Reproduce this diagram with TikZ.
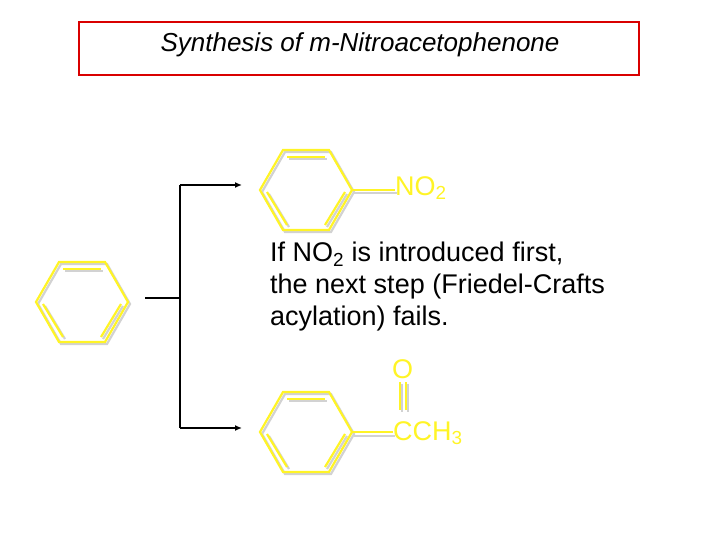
\documentclass[tikz,border=0pt]{standalone}
\usepackage{fontspec}
\usetikzlibrary{arrows.meta}
\setmainfont{Liberation Sans}
\begin{document}
\begin{tikzpicture}[x=1pt,y=-1pt,
  yl/.style={draw=yellow!85!white,line width=2.2pt},
  sh/.style={draw=gray!35,line width=2.2pt},
  ytxt/.style={text=yellow!85!white,font=\fontsize{27}{30}\selectfont,inner sep=0pt,anchor=west},
  arr/.style={draw=black,line width=1.3pt,-{Latex[length=7pt,width=6pt]}}]
\useasboundingbox (0,0) rectangle (720,540);
\newcommand{\ringdraw}[3]{%
  \begin{scope}[shift={(#1,#2)}]
  \draw[#3] (-23,-40)--(23,-40)--(46,0)--(23,40)--(-23,40)--(-46,0)--cycle;
  \draw[#3] (-19,-33)--(19,-33);
  \draw[#3] (-39,2)--(-19,35);
  \draw[#3] (39,2)--(19,35);
  \end{scope}}
% shadows
\ringdraw{308}{192}{sh}
\ringdraw{84}{304}{sh}
\ringdraw{308}{434}{sh}
\draw[sh] (354,193)--(397,193);
\draw[sh] (354,436)--(395,436);
\draw[sh] (402,384)--(402,412);
\draw[sh] (408,384)--(408,412);
% rings
\ringdraw{306}{190}{yl}
\ringdraw{82}{302}{yl}
\ringdraw{306}{432}{yl}
\coordinate (r1) at (352,190);
\coordinate (r3) at (352,432);
\node[ytxt] (no2) at (395,188) {NO\textsubscript{2}};
\node[ytxt] (o) at (392,369) {O};
\node[ytxt] (cch3) at (393,433) {CCH\textsubscript{3}};
\draw[yl] (r1)--(no2.west|-r1);
\draw[yl] (r3)--(cch3.west|-r3);
\draw[yl] (400,382)--(400,410);
\draw[yl] (406,382)--(406,410);
% bracket
\coordinate (s) at (145,298);
\coordinate (j) at (180,298);
\coordinate (jt) at (180,185);
\coordinate (jb) at (180,428);
\coordinate (at) at (242,185);
\coordinate (ab) at (242,428);
\draw[black,line width=1.6pt] (s)--(j);
\draw[black,line width=1.3pt] (jt)--(jb);
\draw[arr] (jt)--(at);
\draw[arr] (jb)--(ab);
% title
\node[draw=red!85!black,line width=1.8pt,minimum width=560pt,minimum height=53pt,inner sep=0pt] (title) at (359,48.5) {};
\node[font=\fontsize{26}{30}\selectfont\itshape] at (360,45) {Synthesis of m-Nitroacetophenone};
% note
\node[align=left,anchor=north west,inner sep=0pt,font=\fontsize{27}{32}\selectfont] (note) at (270,242) {If NO\textsubscript{2} is introduced first,\\the next step (Friedel-Crafts\\acylation) fails.};
\end{tikzpicture}
\end{document}
